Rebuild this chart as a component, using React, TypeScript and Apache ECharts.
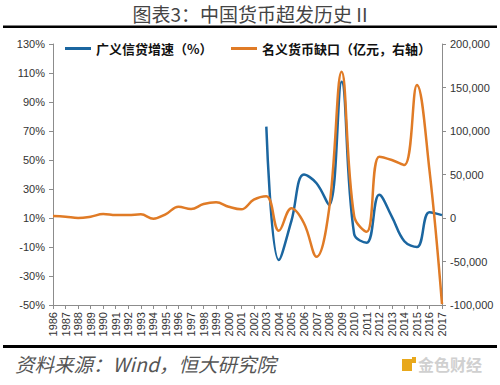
import React, { useEffect, useRef } from "react";
import * as echarts from "echarts";

const years = [
  "1986", "1987", "1988", "1989", "1990", "1991", "1992", "1993", "1994", "1995",
  "1996", "1997", "1998", "1999", "2000", "2001", "2002", "2003", "2004", "2005",
  "2006", "2007", "2008", "2009", "2010", "2011", "2012", "2013", "2014", "2015",
  "2016", "2017",
];

// 广义信贷增速（%）, left axis
const creditGrowth: (number | null)[] = [
  null, null, null, null, null, null, null, null, null, null,
  null, null, null, null, null, null, null, 73, -19, 8,
  40, 34, 19, 104, -1, -7, 26, 11, -6, -10,
  14, 12,
];

// 名义货币缺口（亿元）, right axis
const moneyGap: number[] = [
  2300, 1500, 0, 1500, 4600, 3400, 3400, 4200, -800, 4500,
  13000, 10300, 16000, 18000, 13000, 10000, 21000, 25000, -14600, 11100,
  -6000, -44500, 10000, 168000, 2000, -15700, 70500, 66700, 61000, 153000,
  55000, -99000,
];

const leftTicks = { min: -50, max: 130, interval: 20 };
const rightTicks = { min: -100000, max: 200000, interval: 50000 };

const titleText = "图表3：中国货币超发历史 II";
const sourceText = "资料来源：Wind，恒大研究院";
const seriesNames = ["广义信贷增速（%）", "名义货币缺口（亿元，右轴）"];

export default function App() {
  const ref = useRef<HTMLDivElement>(null);
  useEffect(() => {
    if (!ref.current) return;
    const chart = echarts.init(ref.current, null, { renderer: "svg" });
    const axisColor = "#8c8c8c";
    const labelFont = "Liberation Sans, Arial, sans-serif";
    chart.setOption({
      animation: false,
      backgroundColor: "#ffffff",
      grid: { left: 53, right: 58, top: 44, bottom: 80, containLabel: false },
      legend: [
        {
          data: [seriesNames[0]],
          left: 60,
          top: 37,
          icon: "rect",
          itemWidth: 26,
          itemHeight: 3,
          textStyle: { fontFamily: "Noto Sans CJK SC", fontSize: 13, fontWeight: "bold", color: "#111" },
        },
        {
          data: [seriesNames[1]],
          left: 226,
          top: 37,
          icon: "rect",
          itemWidth: 26,
          itemHeight: 3,
          textStyle: { fontFamily: "Noto Sans CJK SC", fontSize: 13, fontWeight: "bold", color: "#111" },
        },
      ],
      xAxis: {
        type: "category",
        data: years,
        boundaryGap: false,
        axisLine: { onZero: false, lineStyle: { color: axisColor, width: 1 } },
        axisTick: { show: true, length: 4, interval: 0, lineStyle: { color: axisColor } },
        axisLabel: {
          interval: 0,
          rotate: 90,
          margin: 7,
          fontSize: 11,
          fontFamily: labelFont,
          color: "#333",
        },
        splitLine: { show: false },
      },
      yAxis: [
        {
          type: "value",
          min: leftTicks.min,
          max: leftTicks.max,
          interval: leftTicks.interval,
          axisLine: { show: true, onZero: false, lineStyle: { color: axisColor } },
          axisTick: { show: true, length: 4, lineStyle: { color: axisColor } },
          axisLabel: {
            formatter: (v: number) => `${v}%`,
            fontSize: 11,
            fontFamily: labelFont,
            color: "#333",
            margin: 8,
          },
          splitLine: { show: false },
        },
        {
          type: "value",
          min: rightTicks.min,
          max: rightTicks.max,
          interval: rightTicks.interval,
          position: "right",
          axisLine: { show: true, onZero: false, lineStyle: { color: axisColor } },
          axisTick: { show: true, length: 4, lineStyle: { color: axisColor } },
          axisLabel: {
            fontSize: 11,
            fontFamily: labelFont,
            color: "#333",
            margin: 8,
          },
          splitLine: { show: false },
        },
      ],
      series: [
        {
          name: seriesNames[0],
          type: "line",
          yAxisIndex: 0,
          data: creditGrowth,
          smooth: 0.4,
          showSymbol: false,
          connectNulls: false,
          lineStyle: { color: "#1b66a0", width: 2.5 },
          itemStyle: { color: "#1b66a0" },
        },
        {
          name: seriesNames[1],
          type: "line",
          yAxisIndex: 1,
          data: moneyGap,
          smooth: 0.4,
          showSymbol: false,
          lineStyle: { color: "#e07b26", width: 2.5 },
          itemStyle: { color: "#e07b26" },
        },
      ],
      graphic: [
        {
          type: "text",
          x: 250,
          y: 13,
          style: {
            text: titleText,
            fontFamily: "Noto Sans CJK SC",
            fontSize: 19,
            fill: "#444",
            align: "center",
            verticalAlign: "middle",
          },
        },
        { type: "rect", shape: { x: 3, y: 25.5, width: 494, height: 2.5 }, style: { fill: "#000" } },
        { type: "rect", shape: { x: 3, y: 345, width: 494, height: 3 }, style: { fill: "#000" } },
        {
          type: "text",
          left: 15,
          top: 354,
          style: {
            text: sourceText,
            fontFamily: "Noto Sans CJK SC",
            fontSize: 19.5,
            fontStyle: "italic",
            fill: "#555",
          },
        },
        { type: "rect", shape: { x: 402, y: 359, width: 10, height: 12 }, style: { fill: "#e8a81c" } },
        { type: "rect", shape: { x: 412, y: 357, width: 4, height: 6 }, style: { fill: "#e8a81c" } },
        {
          type: "text",
          left: 418,
          top: 356,
          style: {
            text: "金色财经",
            fontFamily: "Noto Sans CJK SC",
            fontSize: 16,
            fontWeight: "bold",
            fill: "#d0d0d0",
          },
        },
      ],
    });
    return () => chart.dispose();
  }, []);
  return (
    <div
      ref={ref}
      style={{ position: "fixed", left: 0, top: 0, width: 500, height: 385, background: "#fff" }}
    />
  );
}
